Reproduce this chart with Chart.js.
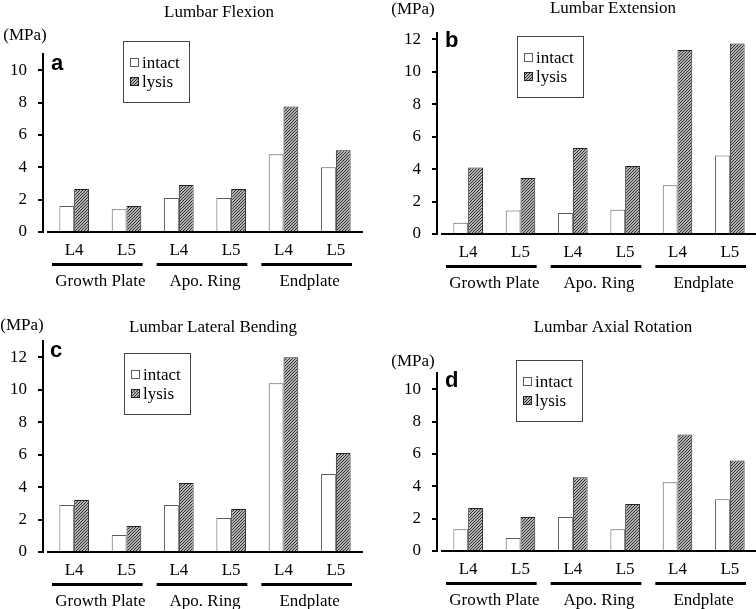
<!DOCTYPE html>
<html>
<head>
<meta charset="utf-8">
<title>Lumbar stress</title>
<script src="https://cdn.jsdelivr.net/npm/chart.js@4/dist/chart.umd.min.js"></script>
<style>
  html, body { margin: 0; padding: 0; background: #fff; }
  #wrap { position: relative; width: 756px; height: 609px; }
  #wrap canvas { position: absolute; }
</style>
</head>
<body>
<div id="wrap">
  <canvas id="chart-a" width="378" height="300" style="left:0;top:0"></canvas>
  <canvas id="chart-b" width="378" height="300" style="left:378px;top:0"></canvas>
  <canvas id="chart-c" width="378" height="309" style="left:0;top:300px"></canvas>
  <canvas id="chart-d" width="378" height="309" style="left:378px;top:300px"></canvas>
</div>
<script>
// data (MPa)
const levelLabels = ['L4', 'L5', 'L4', 'L5', 'L4', 'L5'];
const groupLabels = ['Growth Plate', 'Apo. Ring', 'Endplate'];
const seriesNames = ['intact', 'lysis'];
const unitLabel = '(MPa)';

const flexionIntact = [1.6, 1.4, 2.1, 2.1, 4.8, 4.0];
const flexionLysis = [2.65, 1.6, 2.9, 2.65, 7.75, 5.05];
const extensionIntact = [0.7, 1.45, 1.3, 1.5, 3.0, 4.85];
const extensionLysis = [4.1, 3.45, 5.3, 4.2, 11.35, 11.75];
const bendingIntact = [2.9, 1.05, 2.9, 2.1, 10.4, 4.8];
const bendingLysis = [3.2, 1.6, 4.25, 2.65, 12.0, 6.1];
const rotationIntact = [1.35, 0.8, 2.1, 1.35, 4.25, 3.2];
const rotationLysis = [2.65, 2.1, 4.55, 2.9, 7.2, 5.6];

const panelTitles = ['Lumbar Flexion', 'Lumbar Extension', 'Lumbar Lateral Bending', 'Lumbar Axial Rotation'];
const panelLetters = ['a', 'b', 'c', 'd'];
const axisMax = [11, 12.4, 13, 11];
const tickStep = 2;

(function () {
  'use strict';

  const serif = '"Liberation Serif", "Times New Roman", serif';

  // layout of each panel inside its canvas
  const layouts = [
    { h: 300, axisX: 43, top: 54, bottom: 232, right: 362, title: [219, 17], unit: [25, 40], letter: [51, 70], legend: [123, 41] },
    { h: 300, axisX: 59, top: 33, bottom: 234, right: 378, title: [235, 13], unit: [35, 14], letter: [67, 47], legend: [139, 36] },
    { h: 309, axisX: 43, top: 41, bottom: 252, right: 362, title: [213, 32], unit: [22, 30], letter: [50, 57], legend: [124, 53] },
    { h: 309, axisX: 59, top: 73, bottom: 251, right: 378, title: [235, 32], unit: [35, 66], letter: [67, 87], legend: [138, 60] }
  ];

  function makeHatch() {
    const c = document.createElement('canvas');
    c.width = 3;
    c.height = 3;
    const g = c.getContext('2d');
    g.fillStyle = '#b4b4b4';
    g.fillRect(0, 0, 3, 3);
    g.fillStyle = '#303030';
    g.fillRect(2, 0, 1, 1);
    g.fillRect(1, 1, 1, 1);
    g.fillRect(0, 2, 1, 1);
    return g.createPattern(c, 'repeat');
  }
  const hatch = makeHatch();

  const panelDecor = {
    id: 'panelDecor',
    afterDraw(chart, args, opts) {
      const ctx = chart.ctx;
      const lay = opts.layout;
      ctx.save();
      ctx.fillStyle = '#000';
      ctx.textBaseline = 'alphabetic';

      ctx.font = '17px ' + serif;
      ctx.textAlign = 'center';
      ctx.fillText(opts.title, lay.title[0], lay.title[1]);
      ctx.fillText(unitLabel, lay.unit[0], lay.unit[1]);

      ctx.font = 'bold 22px "Liberation Sans", Arial, sans-serif';
      ctx.textAlign = 'left';
      ctx.fillText(opts.letter, lay.letter[0], lay.letter[1]);

      // group underlines
      const xs = chart.scales.x;
      const gs = chart.scales.x2;
      const gw = (xs.right - xs.left) / groupLabels.length;
      ctx.strokeStyle = '#000';
      ctx.lineWidth = 3;
      groupLabels.forEach(function (g, i) {
        const c = gs.getPixelForValue(i);
        ctx.beginPath();
        ctx.moveTo(c - gw / 2 + 4, gs.top + 1.5);
        ctx.lineTo(c + gw / 2 - 10, gs.top + 1.5);
        ctx.stroke();
      });

      // legend box
      const bx = lay.legend[0];
      const by = lay.legend[1];
      ctx.lineWidth = 1;
      ctx.strokeStyle = '#444';
      ctx.strokeRect(bx + 0.5, by + 0.5, 66, 61);
      ctx.font = '17px ' + serif;
      chart.data.datasets.forEach(function (ds, i) {
        const sy = by + 17 + i * 19;
        ctx.fillStyle = ds.backgroundColor;
        ctx.fillRect(bx + 7, sy, 9, 9);
        ctx.strokeStyle = ds.borderColor;
        ctx.strokeRect(bx + 7.5, sy + 0.5, 8, 8);
        ctx.fillStyle = '#000';
        ctx.fillText(ds.label, bx + 19, by + 27 + i * 19);
      });
      ctx.restore();
    }
  };

  function createPanel(canvasId, idx, intact, lysis) {
    const lay = layouts[idx];
    const W = 378;
    new Chart(document.getElementById(canvasId), {
      type: 'bar',
      data: {
        labels: levelLabels,
        datasets: [{
          label: seriesNames[0],
          data: intact,
          backgroundColor: '#ffffff',
          borderColor: '#5a5a5a',
          borderWidth: 1
        }, {
          label: seriesNames[1],
          data: lysis,
          backgroundColor: hatch,
          borderColor: '#222222',
          borderWidth: 1
        }]
      },
      options: {
        responsive: false,
        animation: false,
        categoryPercentage: 0.565,
        barPercentage: 1,
        layout: { padding: { top: lay.top, right: W - lay.right, bottom: 0, left: 0 } },
        plugins: {
          legend: { display: false },
          tooltip: { enabled: false },
          panelDecor: { layout: lay, title: panelTitles[idx], letter: panelLetters[idx] }
        },
        scales: {
          x: {
            type: 'category',
            position: 'bottom',
            weight: 0,
            grid: { display: true, drawOnChartArea: false, drawTicks: false },
            border: { display: true, color: '#000', width: 2 },
            ticks: { color: '#000', font: { family: serif, size: 17 }, padding: 8, maxRotation: 0, autoSkip: false },
            afterFit: function (s) { s.height = 31; }
          },
          x2: {
            type: 'category',
            position: 'bottom',
            weight: 1,
            labels: groupLabels,
            offset: true,
            grid: { display: false, drawTicks: false },
            border: { display: false },
            ticks: { color: '#000', font: { family: serif, size: 17 }, padding: 8, maxRotation: 0, autoSkip: false },
            afterFit: function (s) { s.height = lay.h - lay.bottom - 31; }
          },
          y: {
            type: 'linear',
            position: 'left',
            weight: 1,
            min: 0,
            max: axisMax[idx],
            grid: { drawOnChartArea: false, drawTicks: true, tickLength: 5, color: '#000', lineWidth: 2 },
            border: { display: true, color: '#000', width: 2 },
            ticks: { stepSize: tickStep, includeBounds: false, color: '#000', font: { family: serif, size: 17 }, padding: 11 },
            afterFit: function (s) { s.width = lay.axisX; }
          },
          gap: {
            type: 'linear',
            position: 'left',
            weight: 0,
            grid: { display: false },
            border: { display: false },
            ticks: { display: false },
            afterFit: function (s) { s.width = 5; }
          }
        }
      },
      plugins: [panelDecor]
    });
  }

  createPanel('chart-a', 0, flexionIntact, flexionLysis);
  createPanel('chart-b', 1, extensionIntact, extensionLysis);
  createPanel('chart-c', 2, bendingIntact, bendingLysis);
  createPanel('chart-d', 3, rotationIntact, rotationLysis);
})();
</script>
</body>
</html>
